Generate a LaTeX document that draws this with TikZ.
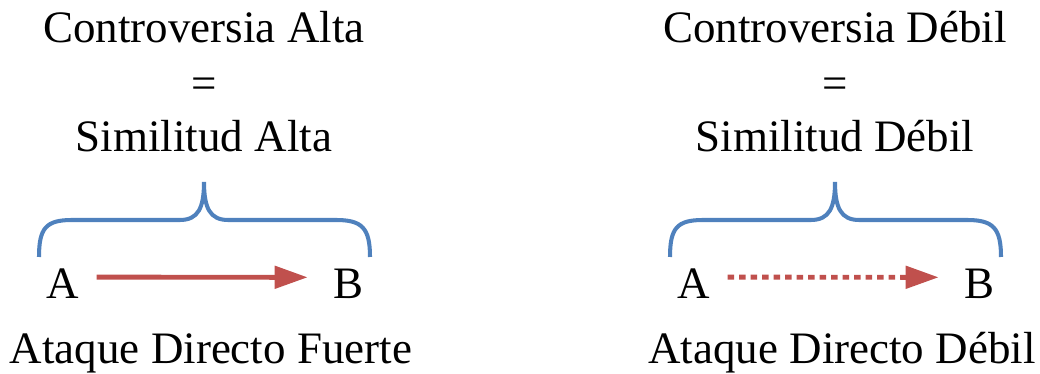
\documentclass[tikz,border=0pt]{standalone}
\usepackage{fontspec}
\setmainfont{Liberation Serif}
\usetikzlibrary{arrows.meta}
\definecolor{braceblue}{HTML}{4F81BD}
\definecolor{linkred}{HTML}{C0504D}
\begin{document}
\begin{tikzpicture}[x=0.02cm, y=0.02cm,
    every node/.style={font=\fontsize{25.6}{30}\selectfont, inner sep=0pt, anchor=base},
    brace/.style={draw=braceblue, line width=2.3pt},
    link/.style={draw=linkred, line width=2.8pt, -{Triangle[length=0.66cm, width=0.44cm]},
      shorten <=0.34cm, shorten >=0.5cm},
    dotlink/.style={dash pattern=on 3.7pt off 2.85pt}]
  \useasboundingbox (0,0) rectangle (1040,374);
  % strong case on the left, weak case shifted to the right
  \foreach \ox/\id/\word/\attack/\kind in {0/alta/Alta/Fuerte/solid, 631/debil/Débil/Débil/dotlink} {
    \node (contro-\id) at (204+\ox,331) {Controversia \word};
    \node (eq-\id) at (204+\ox,275) {=};
    \node (simil-\id) at (204+\ox,222) {Similitud \word};
    % curly brace over the pair
    \draw[brace] (39+\ox,117) .. controls (39+\ox,146) and (46+\ox,154) .. (72+\ox,154)
      -- (180+\ox,154) .. controls (198+\ox,154) and (204+\ox,166) .. (204+\ox,192)
      .. controls (204+\ox,166) and (210+\ox,154) .. (228+\ox,154)
      -- (336+\ox,154) .. controls (362+\ox,154) and (370+\ox,146) .. (370+\ox,117);
    \node (a-\id) at (63+\ox,75) {A};
    \node (b-\id) at (348+\ox,75) {B};
    \draw[link, style=\kind] ([yshift=0.14cm]a-\id.east) -- ([yshift=0.14cm]b-\id.west);
    \node (attack-\id) at (211+\ox,10) {Ataque Directo \attack};
  }
\end{tikzpicture}
\end{document}
